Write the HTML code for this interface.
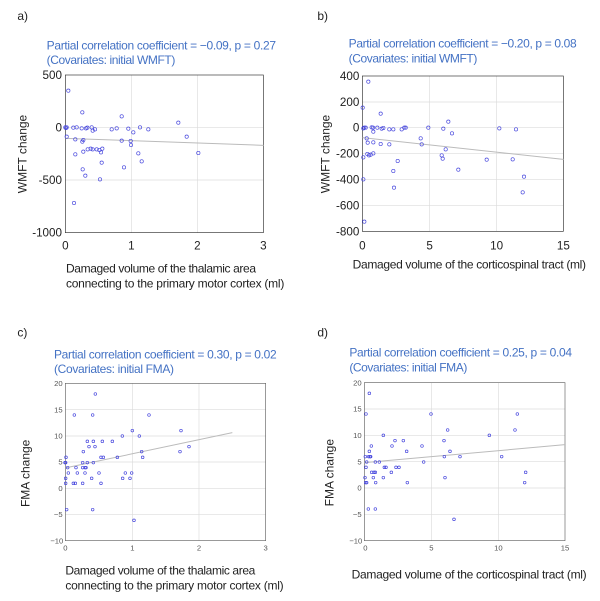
<!DOCTYPE html>
<html><head><meta charset="utf-8"><style>
html,body{margin:0;padding:0;background:#fff;width:600px;height:601px;overflow:hidden}
svg text{font-family:"Liberation Sans",sans-serif}
.t{fill:#4472c4;font-size:36px}
.lab{fill:#222;font-size:36px}
.tk{fill:#222;font-size:35px}
.tk2{fill:#555;font-size:23px}
.g{stroke:#dcdcdc;stroke-width:2}
.bx{fill:none;stroke:#333;stroke-width:2}
.p circle{fill:none;stroke:#4444dd;stroke-width:2}
.rl{stroke:#bbb;stroke-width:3}
</style></head><body>
<svg width="600" height="601" viewBox="0 0 600 601" xmlns="http://www.w3.org/2000/svg">
<!-- Panel a -->
<svg x="0" y="0" width="300" height="300" viewBox="0 0 900 900">
<text x="52" y="60" class="lab">a)</text>
<text x="140" y="148" class="t" textLength="688">Partial correlation coefficient = −0.09, p = 0.27</text>
<text x="140" y="192" class="t" textLength="386">(Covariates: initial WMFT)</text>
<line class="g" x1="394" y1="225" x2="394" y2="698"/><line class="g" x1="592" y1="225" x2="592" y2="698"/>
<line class="g" x1="196" y1="382" x2="790" y2="382"/><line class="g" x1="196" y1="540" x2="790" y2="540"/>
<rect class="bx" x="196" y="225" width="594" height="473"/>
<g class="tk" text-anchor="end"><text x="186" y="237">500</text><text x="186" y="394">0</text><text x="186" y="552">-500</text><text x="186" y="710">-1000</text></g>
<g class="tk" text-anchor="middle"><text x="196" y="748">0</text><text x="394" y="748">1</text><text x="592" y="748">2</text><text x="790" y="748">3</text></g>
<text class="lab" transform="translate(80,462) rotate(-90)" text-anchor="middle">WMFT change</text>
<text x="198" y="817" class="lab" textLength="570">Damaged volume of the thalamic area</text>
<text x="198" y="862" class="lab" textLength="655">connecting to the primary motor cortex (ml)</text>
<line class="rl" x1="196" y1="415" x2="790" y2="436"/>
<g class="p">
<circle cx="205" cy="272" r="5"/><circle cx="247" cy="337" r="5"/><circle cx="365" cy="349" r="5"/><circle cx="535" cy="368" r="5"/>
<circle cx="196" cy="382" r="5"/><circle cx="198" cy="384" r="5"/><circle cx="200" cy="382" r="5"/><circle cx="220" cy="383" r="5"/><circle cx="230" cy="382" r="5"/><circle cx="245" cy="385" r="5"/><circle cx="258" cy="385" r="5"/><circle cx="262" cy="383" r="5"/><circle cx="275" cy="382" r="5"/><circle cx="278" cy="392" r="5"/><circle cx="285" cy="388" r="5"/><circle cx="335" cy="388" r="5"/><circle cx="350" cy="385" r="5"/><circle cx="385" cy="386" r="5"/><circle cx="400" cy="397" r="5"/><circle cx="420" cy="382" r="5"/><circle cx="445" cy="388" r="5"/>
<circle cx="200" cy="410" r="5"/><circle cx="226" cy="418" r="5"/><circle cx="247" cy="425" r="5"/><circle cx="250" cy="420" r="5"/><circle cx="365" cy="422" r="5"/><circle cx="392" cy="423" r="5"/><circle cx="393" cy="435" r="5"/><circle cx="560" cy="410" r="5"/>
<circle cx="226" cy="463" r="5"/><circle cx="250" cy="455" r="5"/><circle cx="263" cy="448" r="5"/><circle cx="272" cy="446" r="5"/><circle cx="278" cy="448" r="5"/><circle cx="290" cy="448" r="5"/><circle cx="298" cy="450" r="5"/><circle cx="303" cy="457" r="5"/><circle cx="307" cy="446" r="5"/><circle cx="415" cy="460" r="5"/><circle cx="425" cy="484" r="5"/><circle cx="595" cy="459" r="5"/>
<circle cx="305" cy="488" r="5"/><circle cx="248" cy="508" r="5"/><circle cx="256" cy="527" r="5"/><circle cx="372" cy="502" r="5"/><circle cx="300" cy="538" r="5"/><circle cx="222" cy="609" r="5"/>
</g>
</svg>
<!-- Panel b -->
<svg x="300" y="0" width="300" height="300" viewBox="0 0 900 900">
<text x="52" y="60" class="lab">b)</text>
<text x="146" y="143" class="t" textLength="684">Partial correlation coefficient = −0.20, p = 0.08</text>
<text x="146" y="187" class="t" textLength="386">(Covariates: initial WMFT)</text>
<line class="g" x1="389" y1="228" x2="389" y2="694"/><line class="g" x1="590" y1="228" x2="590" y2="694"/>
<line class="g" x1="187" y1="306" x2="790" y2="306"/><line class="g" x1="187" y1="383" x2="790" y2="383"/><line class="g" x1="187" y1="461" x2="790" y2="461"/><line class="g" x1="187" y1="539" x2="790" y2="539"/><line class="g" x1="187" y1="616" x2="790" y2="616"/>
<rect class="bx" x="187" y="228" width="603" height="466"/>
<g class="tk" text-anchor="end"><text x="178" y="240">400</text><text x="178" y="318">200</text><text x="178" y="395">0</text><text x="178" y="473">-200</text><text x="178" y="551">-400</text><text x="178" y="628">-600</text><text x="178" y="706">-800</text></g>
<g class="tk" text-anchor="middle"><text x="187" y="748">0</text><text x="389" y="748">5</text><text x="590" y="748">10</text><text x="790" y="748">15</text></g>
<text class="lab" transform="translate(88,462) rotate(-90)" text-anchor="middle">WMFT change</text>
<text x="158" y="806" class="lab" textLength="700">Damaged volume of the corticospinal tract (ml)</text>
<line class="rl" x1="187" y1="413" x2="790" y2="478"/>
<g class="p">
<circle cx="205" cy="245" r="5"/><circle cx="188" cy="323" r="5"/><circle cx="242" cy="341" r="5"/><circle cx="445" cy="365" r="5"/>
<circle cx="190" cy="385" r="5"/><circle cx="193" cy="383" r="5"/><circle cx="197" cy="383" r="5"/><circle cx="215" cy="382" r="5"/><circle cx="219" cy="383" r="5"/><circle cx="232" cy="383" r="5"/><circle cx="245" cy="386" r="5"/><circle cx="250" cy="384" r="5"/><circle cx="268" cy="388" r="5"/><circle cx="280" cy="388" r="5"/><circle cx="305" cy="388" r="5"/><circle cx="313" cy="383" r="5"/><circle cx="317" cy="383" r="5"/><circle cx="385" cy="383" r="5"/><circle cx="430" cy="386" r="5"/><circle cx="648" cy="388" r="5"/><circle cx="598" cy="385" r="5"/><circle cx="220" cy="395" r="5"/>
<circle cx="200" cy="415" r="5"/><circle cx="203" cy="428" r="5"/><circle cx="220" cy="427" r="5"/><circle cx="242" cy="432" r="5"/><circle cx="268" cy="433" r="5"/><circle cx="362" cy="415" r="5"/><circle cx="365" cy="433" r="5"/><circle cx="456" cy="400" r="5"/><circle cx="437" cy="448" r="5"/>
<circle cx="202" cy="462" r="5"/><circle cx="207" cy="466" r="5"/><circle cx="212" cy="464" r="5"/><circle cx="220" cy="460" r="5"/><circle cx="425" cy="466" r="5"/><circle cx="428" cy="476" r="5"/><circle cx="190" cy="472" r="5"/><circle cx="293" cy="483" r="5"/><circle cx="475" cy="509" r="5"/><circle cx="560" cy="479" r="5"/><circle cx="638" cy="478" r="5"/>
<circle cx="280" cy="513" r="5"/><circle cx="672" cy="530" r="5"/><circle cx="282" cy="563" r="5"/><circle cx="668" cy="577" r="5"/><circle cx="190" cy="538" r="5"/><circle cx="193" cy="665" r="5"/>
</g>
</svg>
<!-- Panel c -->
<svg x="0" y="300" width="300" height="300" viewBox="0 0 900 900">
<text x="52" y="110" class="lab">c)</text>
<text x="162" y="175" class="t" textLength="668">Partial correlation coefficient = 0.30, p = 0.02</text>
<text x="162" y="219" class="t" textLength="360">(Covariates: initial FMA)</text>
<line class="g" x1="397" y1="250" x2="397" y2="722"/><line class="g" x1="597" y1="250" x2="597" y2="722"/>
<line class="g" x1="196" y1="329" x2="797" y2="329"/><line class="g" x1="196" y1="408" x2="797" y2="408"/><line class="g" x1="196" y1="486" x2="797" y2="486"/><line class="g" x1="196" y1="565" x2="797" y2="565"/><line class="g" x1="196" y1="643" x2="797" y2="643"/>
<rect class="bx" x="196" y="250" width="601" height="472" style="stroke:#666"/>
<g class="tk2" text-anchor="end"><text x="188" y="258">20</text><text x="188" y="337">15</text><text x="188" y="416">10</text><text x="188" y="494">5</text><text x="188" y="573">0</text><text x="188" y="651">−5</text><text x="190" y="730">−10</text></g>
<g class="tk2" text-anchor="middle"><text x="196" y="752">0</text><text x="397" y="752">1</text><text x="597" y="752">2</text><text x="797" y="752">3</text></g>
<text class="lab" transform="translate(88,520) rotate(-90)" text-anchor="middle">FMA change</text>
<text x="196" y="823" class="lab" textLength="570">Damaged volume of the thalamic area</text>
<text x="196" y="868" class="lab" textLength="655">connecting to the primary motor cortex (ml)</text>
<line class="rl" x1="200" y1="503" x2="697" y2="398"/>
<g class="p">
<circle cx="286" cy="282" r="4"/><circle cx="223" cy="345" r="4"/><circle cx="278" cy="345" r="4"/><circle cx="447" cy="345" r="4"/><circle cx="397" cy="392" r="4"/><circle cx="367" cy="408" r="4"/><circle cx="418" cy="408" r="4"/><circle cx="543" cy="392" r="4"/>
<circle cx="262" cy="424" r="4"/><circle cx="280" cy="424" r="4"/><circle cx="307" cy="424" r="4"/><circle cx="337" cy="424" r="4"/><circle cx="267" cy="440" r="4"/><circle cx="285" cy="440" r="4"/><circle cx="250" cy="455" r="4"/><circle cx="198" cy="472" r="4"/><circle cx="197" cy="488" r="4"/><circle cx="195" cy="488" r="4"/><circle cx="248" cy="488" r="4"/><circle cx="262" cy="488" r="4"/><circle cx="303" cy="472" r="4"/><circle cx="310" cy="472" r="4"/><circle cx="352" cy="472" r="4"/><circle cx="425" cy="455" r="4"/><circle cx="428" cy="472" r="4"/><circle cx="540" cy="455" r="4"/><circle cx="567" cy="440" r="4"/><circle cx="280" cy="488" r="4"/>
<circle cx="203" cy="503" r="4"/><circle cx="228" cy="503" r="4"/><circle cx="248" cy="503" r="4"/><circle cx="255" cy="503" r="4"/><circle cx="258" cy="503" r="4"/><circle cx="205" cy="519" r="4"/><circle cx="232" cy="519" r="4"/><circle cx="255" cy="519" r="4"/><circle cx="297" cy="519" r="4"/><circle cx="376" cy="519" r="4"/><circle cx="395" cy="519" r="4"/>
<circle cx="197" cy="535" r="4"/><circle cx="275" cy="535" r="4"/><circle cx="368" cy="535" r="4"/><circle cx="390" cy="535" r="4"/><circle cx="197" cy="550" r="4"/><circle cx="220" cy="550" r="4"/><circle cx="226" cy="550" r="4"/><circle cx="248" cy="550" r="4"/><circle cx="303" cy="550" r="4"/>
<circle cx="200" cy="629" r="4"/><circle cx="278" cy="629" r="4"/><circle cx="402" cy="661" r="4"/>
</g>
</svg>
<!-- Panel d -->
<svg x="300" y="300" width="300" height="300" viewBox="0 0 900 900">
<text x="52" y="110" class="lab">d)</text>
<text x="148" y="170" class="t" textLength="668">Partial correlation coefficient = 0.25, p = 0.04</text>
<text x="148" y="214" class="t" textLength="354">(Covariates: initial FMA)</text>
<line class="g" x1="394" y1="248" x2="394" y2="722"/><line class="g" x1="595" y1="248" x2="595" y2="722"/>
<line class="g" x1="193" y1="327" x2="795" y2="327"/><line class="g" x1="193" y1="406" x2="795" y2="406"/><line class="g" x1="193" y1="485" x2="795" y2="485"/><line class="g" x1="193" y1="564" x2="795" y2="564"/><line class="g" x1="193" y1="643" x2="795" y2="643"/>
<rect class="bx" x="193" y="248" width="602" height="474" style="stroke:#666"/>
<g class="tk2" text-anchor="end"><text x="185" y="256">20</text><text x="185" y="335">15</text><text x="185" y="414">10</text><text x="185" y="493">5</text><text x="185" y="572">0</text><text x="185" y="651">−5</text><text x="187" y="730">−10</text></g>
<g class="tk2" text-anchor="middle"><text x="196" y="752">0</text><text x="394" y="752">5</text><text x="595" y="752">10</text><text x="795" y="752">15</text></g>
<text class="lab" transform="translate(100,518) rotate(-90)" text-anchor="middle">FMA change</text>
<text x="155" y="835" class="lab" textLength="705">Damaged volume of the corticospinal tract (ml)</text>
<line class="rl" x1="193" y1="488" x2="795" y2="434"/>
<g class="p">
<circle cx="208" cy="280" r="4"/><circle cx="198" cy="342" r="4"/><circle cx="393" cy="342" r="4"/><circle cx="652" cy="342" r="4"/><circle cx="250" cy="406" r="4"/><circle cx="443" cy="390" r="4"/><circle cx="568" cy="406" r="4"/><circle cx="645" cy="390" r="4"/>
<circle cx="285" cy="422" r="4"/><circle cx="310" cy="422" r="4"/><circle cx="214" cy="438" r="4"/><circle cx="276" cy="438" r="4"/><circle cx="366" cy="438" r="4"/><circle cx="208" cy="454" r="4"/><circle cx="320" cy="454" r="4"/><circle cx="432" cy="422" r="4"/><circle cx="450" cy="454" r="4"/>
<circle cx="210" cy="470" r="4"/><circle cx="206" cy="470" r="4"/><circle cx="212" cy="470" r="4"/><circle cx="433" cy="470" r="4"/><circle cx="480" cy="470" r="4"/><circle cx="605" cy="470" r="4"/><circle cx="196" cy="470" r="4"/>
<circle cx="200" cy="486" r="4"/><circle cx="226" cy="486" r="4"/><circle cx="238" cy="486" r="4"/><circle cx="371" cy="486" r="4"/><circle cx="198" cy="502" r="4"/><circle cx="253" cy="502" r="4"/><circle cx="258" cy="502" r="4"/><circle cx="288" cy="502" r="4"/><circle cx="297" cy="502" r="4"/>
<circle cx="215" cy="517" r="4"/><circle cx="222" cy="517" r="4"/><circle cx="226" cy="517" r="4"/><circle cx="274" cy="517" r="4"/><circle cx="677" cy="517" r="4"/>
<circle cx="195" cy="533" r="4"/><circle cx="220" cy="533" r="4"/><circle cx="250" cy="533" r="4"/><circle cx="435" cy="533" r="4"/><circle cx="197" cy="548" r="4"/><circle cx="200" cy="548" r="4"/><circle cx="227" cy="548" r="4"/><circle cx="322" cy="548" r="4"/><circle cx="674" cy="548" r="4"/>
<circle cx="205" cy="627" r="4"/><circle cx="226" cy="627" r="4"/><circle cx="462" cy="658" r="4"/>
</g>
</svg>
</svg>
</body></html>
